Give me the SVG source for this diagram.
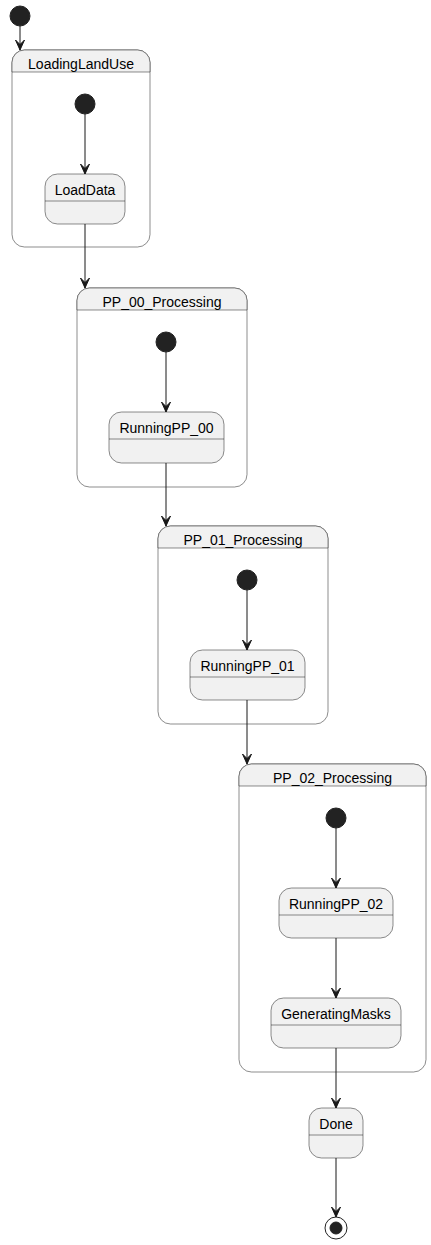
<svg xmlns="http://www.w3.org/2000/svg" width="431" height="1245" viewBox="0 0 431 1245">
<style>
.st{fill:#F1F1F1;stroke:#181818;stroke-width:0.5}
.cb{fill:#FFFFFF;stroke:#181818;stroke-width:0.5}
.sep{stroke:#181818;stroke-width:0.5;fill:none}
.t{font-family:"Liberation Sans",Arial,sans-serif;font-size:14px;fill:#000000;text-anchor:middle}
.dot{fill:#222222;stroke:#222222;stroke-width:1}
.ln{stroke:#181818;stroke-width:1;fill:none}
.ah{fill:#181818;stroke:#181818;stroke-width:1;stroke-linejoin:miter}
</style>
<rect width="431" height="1245" fill="#FFFFFF"/>

<g id="start">
<circle class="dot" cx="20" cy="16" r="10"/>
</g>

<g id="LoadingLandUse">
<rect class="cb" x="12" y="50" width="138" height="197" rx="12.5" ry="12.5"/>
<path class="st" d="M12,72 L12,62.5 A12.5,12.5 0 0 1 24.5,50 L137.5,50 A12.5,12.5 0 0 1 150,62.5 L150,72 Z"/>
<text class="t" x="81" y="69">LoadingLandUse</text>
</g>
<g id="LoadingLandUse_start">
<circle class="dot" cx="85" cy="104" r="10"/>
</g>
<g id="LoadData">
<rect class="st" x="45" y="174" width="80" height="50" rx="12.5" ry="12.5"/>
<line class="sep" x1="45" y1="201" x2="125" y2="201"/>
<text class="t" x="85" y="194.5">LoadData</text>
</g>

<g id="PP_00_Processing">
<rect class="cb" x="77" y="288" width="170" height="199" rx="12.5" ry="12.5"/>
<path class="st" d="M77,310 L77,300.5 A12.5,12.5 0 0 1 89.5,288 L234.5,288 A12.5,12.5 0 0 1 247,300.5 L247,310 Z"/>
<text class="t" x="162" y="307">PP_00_Processing</text>
</g>
<g id="PP_00_start">
<circle class="dot" cx="166" cy="342" r="10"/>
</g>
<g id="RunningPP_00">
<rect class="st" x="109" y="412" width="115" height="51" rx="12.5" ry="12.5"/>
<line class="sep" x1="109" y1="439" x2="224" y2="439"/>
<text class="t" x="166.5" y="432.5">RunningPP_00</text>
</g>

<g id="PP_01_Processing">
<rect class="cb" x="158" y="526" width="170" height="198" rx="12.5" ry="12.5"/>
<path class="st" d="M158,548 L158,538.5 A12.5,12.5 0 0 1 170.5,526 L315.5,526 A12.5,12.5 0 0 1 328,538.5 L328,548 Z"/>
<text class="t" x="243" y="545">PP_01_Processing</text>
</g>
<g id="PP_01_start">
<circle class="dot" cx="247" cy="580" r="10"/>
</g>
<g id="RunningPP_01">
<rect class="st" x="190" y="650" width="115" height="50" rx="12.5" ry="12.5"/>
<line class="sep" x1="190" y1="677" x2="305" y2="677"/>
<text class="t" x="247.5" y="670.5">RunningPP_01</text>
</g>

<g id="PP_02_Processing">
<rect class="cb" x="239" y="764" width="187" height="308" rx="12.5" ry="12.5"/>
<path class="st" d="M239,786 L239,776.5 A12.5,12.5 0 0 1 251.5,764 L413.5,764 A12.5,12.5 0 0 1 426,776.5 L426,786 Z"/>
<text class="t" x="332.5" y="783">PP_02_Processing</text>
</g>
<g id="PP_02_start">
<circle class="dot" cx="336" cy="818" r="10"/>
</g>
<g id="RunningPP_02">
<rect class="st" x="279" y="888" width="114" height="50" rx="12.5" ry="12.5"/>
<line class="sep" x1="279" y1="915" x2="393" y2="915"/>
<text class="t" x="336" y="908.5">RunningPP_02</text>
</g>
<g id="GeneratingMasks">
<rect class="st" x="271" y="998" width="130" height="50" rx="12.5" ry="12.5"/>
<line class="sep" x1="271" y1="1025" x2="401" y2="1025"/>
<text class="t" x="336" y="1018.5">GeneratingMasks</text>
</g>

<g id="Done">
<rect class="st" x="309" y="1108" width="54" height="50" rx="12.5" ry="12.5"/>
<line class="sep" x1="309" y1="1135" x2="363" y2="1135"/>
<text class="t" x="336" y="1128.5">Done</text>
</g>

<g id="end">
<circle cx="336" cy="1228" r="11" fill="none" stroke="#222222" stroke-width="1"/>
<circle class="dot" cx="336" cy="1228" r="6"/>
</g>

<g id="connectors">
<path class="ln" d="M20,26 L20,50"/>
<path class="ah" d="M20,50 L15.5,40 L20,44.5 L24.5,40 Z"/>
<path class="ln" d="M85,114 L85,174"/>
<path class="ah" d="M85,174 L80.5,164 L85,168.5 L89.5,164 Z"/>
<path class="ln" d="M85,224 L85,288"/>
<path class="ah" d="M85,288 L80.5,278 L85,282.5 L89.5,278 Z"/>
<path class="ln" d="M166,352 L166,412"/>
<path class="ah" d="M166,412 L161.5,402 L166,406.5 L170.5,402 Z"/>
<path class="ln" d="M166,463 L166,526"/>
<path class="ah" d="M166,526 L161.5,516 L166,520.5 L170.5,516 Z"/>
<path class="ln" d="M247,590 L247,650"/>
<path class="ah" d="M247,650 L242.5,640 L247,644.5 L251.5,640 Z"/>
<path class="ln" d="M247,700 L247,764"/>
<path class="ah" d="M247,764 L242.5,754 L247,758.5 L251.5,754 Z"/>
<path class="ln" d="M336,828 L336,888"/>
<path class="ah" d="M336,888 L331.5,878 L336,882.5 L340.5,878 Z"/>
<path class="ln" d="M336,938 L336,998"/>
<path class="ah" d="M336,998 L331.5,988 L336,992.5 L340.5,988 Z"/>
<path class="ln" d="M336,1048 L336,1108"/>
<path class="ah" d="M336,1108 L331.5,1098 L336,1102.5 L340.5,1098 Z"/>
<path class="ln" d="M336,1158 L336,1217"/>
<path class="ah" d="M336,1217 L331.5,1207 L336,1211.5 L340.5,1207 Z"/>
</g>
</svg>
